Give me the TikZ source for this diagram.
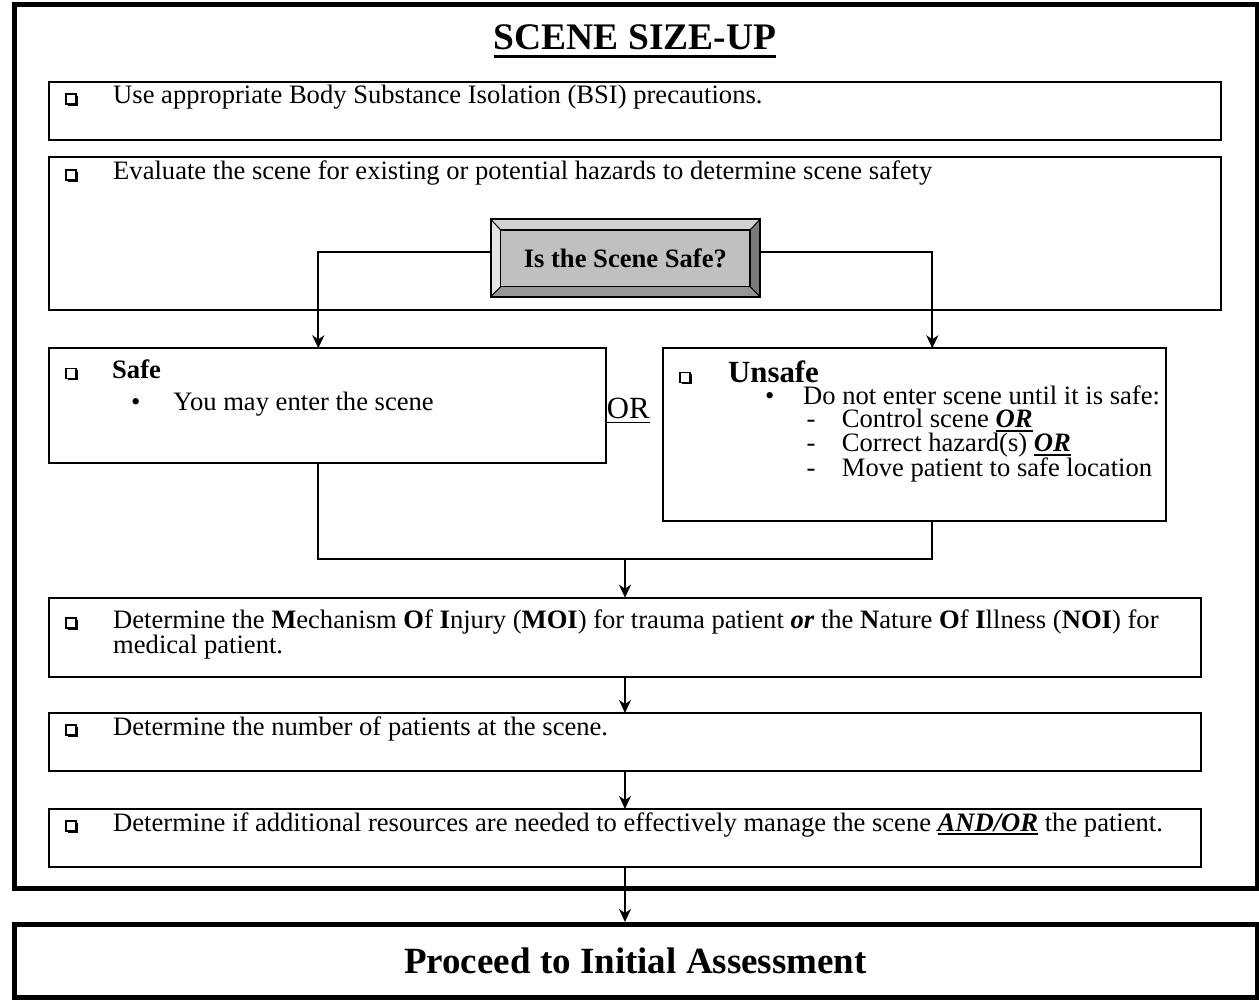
\documentclass[tikz,border=0pt]{standalone}
\usepackage{fontspec}
\setmainfont{Liberation Serif}
\usetikzlibrary{arrows.meta}
\newcommand\fsz[1]{\fontsize{#1}{#1}\selectfont}
\newcommand\myul[3]{\leavevmode\setbox0=\hbox{#3}\rlap{\rule[#2]{\wd0}{#1}}\box0\relax}
\newcommand\bior[1]{\myul{2pt}{-4.3pt}{\textbf{\textit{#1}}}}
\definecolor{bevface}{HTML}{C0C0C0}
\definecolor{bevtop}{HTML}{D2D2D2}
\definecolor{bevleft}{HTML}{E6E6E6}
\definecolor{bevright}{HTML}{7A7A7A}
\definecolor{bevbot}{HTML}{969696}
\begin{document}
\begin{tikzpicture}[x=1pt,y=-1pt,
  tbox/.style={draw=black,line width=2pt,anchor=north west,inner sep=0pt,outer sep=0pt,fill=white},
  txt/.style={inner sep=0pt,anchor=base west,font=\fsz{26.6}},
  conn/.style={draw=black,line width=2pt},
  arr/.style={conn,-{Stealth[length=13pt,width=12pt,inset=4pt]}},
  chkbox/.pic={\fill[black] (1.6,1.6) rectangle (11.6,-8.4); \filldraw[fill=white,draw=black,line width=1.1pt] (0,0) rectangle (10,-10);}
]
\fill[white] (0,0) rectangle (1259,1000);
\useasboundingbox (0,0) rectangle (1259,1000);

% outer frame
\draw[line width=5pt] (14,5) rectangle (1257,888.5);

% title
\node[txt, anchor=base, font=\fsz{37.5}\bfseries] (title) at (635,50) {\myul{3.3pt}{-8.3pt}{SCENE SIZE-UP}};

% boxes
\node[tbox, minimum width=1172pt, minimum height=58pt] (bsi) at (49,82) {};
\node[tbox, minimum width=1172pt, minimum height=153pt] (eval) at (49,157) {};
\node[tbox, minimum width=557pt, minimum height=115pt] (safe) at (49,348.3) {};
\node[tbox, minimum width=502.7pt, minimum height=172.7pt] (unsafe) at (663.3,348.3) {};
\node[tbox, minimum width=1152pt, minimum height=79pt] (moi) at (49,597.7) {};
\node[tbox, minimum width=1152pt, minimum height=57.7pt] (num) at (49,713) {};
\node[tbox, minimum width=1152pt, minimum height=57.7pt] (res) at (49,809) {};

% bevel decision box
\node[fill=bevface, minimum width=269.3pt, minimum height=77.4pt, inner sep=0pt, font=\fsz{26.6}\bfseries] (q) at (625.35,258) {Is the Scene Safe?};
\fill[bevtop] (490.7,219.3) -- (760,219.3) -- (750,230) -- (500.7,230) -- cycle;
\fill[bevleft] (490.7,219.3) -- (500.7,230) -- (500.7,286.7) -- (490.7,296.7) -- cycle;
\fill[bevright] (760,219.3) -- (760,296.7) -- (750,286.7) -- (750,230) -- cycle;
\fill[bevbot] (490.7,296.7) -- (760,296.7) -- (750,286.7) -- (500.7,286.7) -- cycle;
\draw[line width=1pt] (490.7,219.3) -- (500.7,230) (760,219.3) -- (750,230) (760,296.7) -- (750,286.7) (490.7,296.7) -- (500.7,286.7);
\draw[line width=1.5pt] (500.7,230) rectangle (750,286.7);
\draw[line width=2pt] (q.north west) rectangle (q.south east);

% final box
\node[draw, line width=5pt, minimum width=1243pt, minimum height=73pt, inner sep=0pt, font=\fsz{37}\bfseries] (proceed) at (635.5,961) {Proceed to Initial Assessment};

% texts
\pic at (66,104) {chkbox};
\node[txt] (t1) at (113,104) {Use appropriate Body Substance Isolation (BSI) precautions.};

\pic at (66,180) {chkbox};
\node[txt] (t2) at (113,180) {Evaluate the scene for existing or potential hazards to determine scene safety};

\pic at (66,378.3) {chkbox};
\node[txt, font=\fsz{26.6}\bfseries] (t3) at (112,378.3) {Safe};
\node[txt] (t3c) at (131,410) {\makebox[42.3pt][l]{•}You may enter the scene};

\node[txt, font=\fsz{30.8}] (or) at (606.7,418.3) {\myul{1.6pt}{-5pt}{OR}};

\pic at (680,382.7) {chkbox};
\node[txt, font=\fsz{30.8}\bfseries] (t4) at (728,382.7) {Unsafe};
% multi-line node: base anchor is the baseline of its last line
\node[txt, align=left, font={\fontsize{26.6}{23.3}\selectfont}] (t4c) at (765,476.6)
  {\makebox[38pt][l]{•}Do not enter scene until it is safe:\\
   \hspace*{41.5pt}\makebox[35.2pt][l]{-}Control scene \bior{OR}\\
   \hspace*{41.5pt}\makebox[35.2pt][l]{-}Correct hazard(s) \bior{OR}\\
   \hspace*{41.5pt}\makebox[35.2pt][l]{-}Move patient to safe location};

\pic at (66,628) {chkbox};
\node[txt, align=left, font={\fontsize{26.6}{25}\selectfont}] (t5) at (113,653) {Determine the \textbf{M}echanism \textbf{O}f \textbf{I}njury (\textbf{MOI}) for trauma patient \textbf{\textit{or}} the \textbf{N}ature \textbf{O}f \textbf{I}llness (\textbf{NOI}) for\\ medical patient.};

\pic at (66,735) {chkbox};
\node[txt] (t6) at (113,735) {Determine the number of patients at the scene.};

\pic at (66,831) {chkbox};
\node[txt] (t7) at (113,831) {Determine if additional resources are needed to effectively manage the scene \bior{AND/OR} the patient.};

% connectors
\coordinate (join) at (625,559.3);
\draw[arr] ([yshift=5.5pt]q.west) -| ([xshift=-9.2pt]safe.north);
\draw[arr] ([yshift=5.5pt]q.east) -| ([xshift=17.65pt]unsafe.north);
\draw[conn] ([xshift=-9.2pt]safe.south) |- (join) -| ([xshift=17.65pt]unsafe.south);
\draw[arr] (join) -- (moi.north);
\draw[arr] (moi.south) -- (num.north);
\draw[arr] (num.south) -- (res.north);
\draw[arr] (res.south) -- (res.south |- proceed.north);
\end{tikzpicture}
\end{document}
